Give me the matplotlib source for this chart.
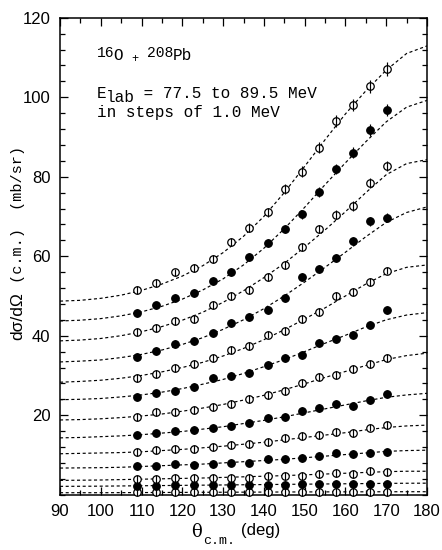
import numpy as np
import matplotlib
matplotlib.use("Agg")
import matplotlib.pyplot as plt
from matplotlib.ticker import MultipleLocator

# Bombarding energies (MeV), lowest curve first
energies = [77.5, 78.5, 79.5, 80.5, 81.5, 82.5, 83.5, 84.5, 85.5, 86.5, 87.5, 88.5, 89.5]

# Measured angles (deg, c.m.)
theta_data = [109.0, 113.5, 118.3, 122.9, 127.5, 131.9, 136.4, 140.9,
              145.1, 149.4, 153.6, 157.8, 161.9, 166.1, 170.2]

# Measured cross sections (mb/sr), one list per energy
cs_775 = [0.6, 0.6, 0.6, 0.6, 0.6, 0.6, 0.6, 0.65, 0.65, 0.65, 0.7, 0.7, 0.7, 0.7, 0.75]
cs_785 = [2.3, 2.3, 2.4, 2.4, 2.4, 2.4, 2.5, 2.5, 2.5, 2.6, 2.7, 2.8, 2.7, 2.8, 2.8]
cs_795 = [4.0, 4.0, 4.1, 4.1, 4.1, 4.2, 4.3, 4.6, 4.7, 4.8, 5.1, 5.4, 5.3, 5.9, 5.7]
cs_805 = [7.2, 7.1, 7.6, 7.4, 7.7, 8.1, 8.1, 8.9, 9.1, 9.3, 9.7, 10.4, 10.2, 10.5, 10.8]
cs_815 = [10.7, 11.2, 11.4, 11.5, 11.9, 12.4, 12.7, 13.3, 14.2, 14.7, 14.9, 15.7, 15.6, 16.9, 17.5]
cs_825 = [15.0, 15.5, 16.0, 16.3, 16.7, 17.4, 18.0, 19.2, 19.5, 21.1, 21.9, 22.8, 22.3, 23.8, 25.4]
cs_835 = [19.5, 20.7, 20.9, 21.4, 22.1, 22.8, 24.1, 25.1, 26.2, 28.0, 29.7, 30.1, 31.6, 33.0, 34.5]
cs_845 = [24.6, 25.5, 26.0, 27.1, 29.3, 29.9, 30.6, 32.6, 34.5, 35.1, 38.1, 39.2, 40.1, 42.8, 46.4]
cs_855 = [29.3, 30.3, 31.9, 32.8, 34.3, 36.3, 37.5, 40.3, 41.1, 44.2, 45.9, 50.1, 51.0, 53.4, 56.4]
cs_865 = [34.7, 36.1, 37.8, 38.7, 40.6, 43.1, 44.8, 46.5, 49.6, 54.8, 56.8, 59.5, 63.7, 68.8, 69.7]
cs_875 = [41.0, 42.0, 43.7, 44.2, 47.7, 50.0, 51.6, 54.7, 57.8, 62.2, 66.8, 70.4, 72.6, 78.3, 82.7]
cs_885 = [45.6, 47.6, 49.4, 50.7, 53.8, 56.1, 59.7, 63.4, 66.8, 70.5, 76.1, 82.0, 86.0, 91.7, 96.8]
cs_895 = [51.5, 53.2, 55.9, 57.1, 59.2, 63.6, 67.2, 71.1, 76.9, 81.3, 87.3, 94.0, 98.0, 102.8, 107.1]

# Fitted curves sampled every 5 deg from 90 to 180
theta_fit = [90, 95, 100, 105, 110, 115, 120, 125, 130, 135, 140, 145, 150, 155, 160, 165, 170, 175, 180]
fit_775 = [0.5, 0.5, 0.5, 0.52, 0.54, 0.56, 0.58, 0.6, 0.62, 0.64, 0.66, 0.68, 0.7, 0.71, 0.72, 0.73, 0.74, 0.75, 0.75]
fit_785 = [2.1, 2.12, 2.15, 2.2, 2.25, 2.3, 2.35, 2.4, 2.45, 2.5, 2.55, 2.6, 2.65, 2.7, 2.75, 2.8, 2.85, 2.88, 2.9]
fit_795 = [3.6, 3.65, 3.7, 3.8, 3.9, 4.0, 4.1, 4.2, 4.35, 4.5, 4.65, 4.8, 5.0, 5.2, 5.4, 5.6, 5.8, 5.9, 5.9]
fit_805 = [6.7, 6.75, 6.8, 6.9, 7.1, 7.3, 7.5, 7.7, 8.0, 8.3, 8.6, 8.9, 9.3, 9.7, 10.1, 10.5, 10.9, 11.1, 11.2]
fit_815 = [10.3, 10.4, 10.5, 10.6, 10.8, 11.1, 11.4, 11.8, 12.2, 12.7, 13.2, 13.8, 14.4, 15.0, 15.6, 16.3, 16.9, 17.3, 17.5]
fit_825 = [14.3, 14.4, 14.6, 14.8, 15.1, 15.5, 15.9, 16.5, 17.1, 17.9, 18.7, 19.6, 20.6, 21.6, 22.6, 23.6, 24.5, 25.1, 25.5]
fit_835 = [18.8, 18.9, 19.1, 19.4, 19.8, 20.3, 21.0, 21.8, 22.7, 23.8, 25.0, 26.4, 27.9, 29.5, 31.0, 32.5, 34.0, 35.0, 35.6]
fit_845 = [23.9, 24.0, 24.2, 24.6, 25.1, 25.8, 26.7, 27.8, 29.0, 30.5, 32.2, 34.0, 36.0, 38.1, 40.1, 42.2, 44.0, 45.2, 45.8]
fit_855 = [28.3, 28.5, 28.8, 29.3, 30.0, 30.9, 32.0, 33.3, 34.9, 36.8, 39.0, 41.5, 44.2, 47.0, 50.0, 53.0, 55.6, 57.2, 57.8]
fit_865 = [33.4, 33.6, 33.9, 34.5, 35.3, 36.4, 37.8, 39.5, 41.6, 44.0, 46.8, 50.0, 53.5, 57.2, 61.0, 64.9, 68.5, 71.0, 72.4]
fit_875 = [38.7, 38.9, 39.3, 40.0, 41.0, 42.3, 43.9, 45.9, 48.4, 51.3, 54.6, 58.2, 62.3, 66.6, 71.2, 76.0, 80.5, 83.3, 84.3]
fit_885 = [43.7, 43.9, 44.3, 45.0, 46.0, 47.4, 49.2, 51.5, 54.3, 57.8, 62.0, 66.9, 72.3, 78.0, 83.5, 88.8, 93.8, 97.5, 99.2]
fit_895 = [48.7, 48.9, 49.4, 50.2, 51.4, 53.0, 55.0, 57.6, 60.9, 65.0, 70.0, 76.0, 82.6, 89.3, 95.8, 101.6, 106.8, 111.0, 112.9]

data_sets = [cs_775, cs_785, cs_795, cs_805, cs_815, cs_825, cs_835,
             cs_845, cs_855, cs_865, cs_875, cs_885, cs_895]
fit_sets = [fit_775, fit_785, fit_795, fit_805, fit_815, fit_825, fit_835,
            fit_845, fit_855, fit_865, fit_875, fit_885, fit_895]

# Error bars: fractional uncertainty with a floor
rel_err = 0.016
min_err = 1.0

MONO = "Liberation Mono"
SANS = "Liberation Sans"

fig = plt.figure(figsize=(4.42, 5.5), dpi=100)
ax = fig.add_axes([60 / 442, 55.3 / 550, 367 / 442, 477 / 550])

for i, (ys, yf) in enumerate(zip(data_sets, fit_sets)):
    ax.plot(theta_fit, yf, color="black", lw=0.85, dashes=(2.6, 2.2), zorder=2)
    ys = np.asarray(ys)
    err = np.maximum(rel_err * ys, min_err)
    filled = (i % 2 == 1)
    ax.plot(theta_data, ys, "o", ms=5.4,
            mfc="black" if filled else "white", mec="black", mew=0.9,
            zorder=3, clip_on=False)
    # error bars drawn over the symbols so open circles are crossed
    ax.vlines(theta_data, ys - err, ys + err, color="black", lw=0.85,
              zorder=4, clip_on=False)

ax.set_xlim(90, 180)
ax.set_ylim(0, 120)
ax.xaxis.set_major_locator(MultipleLocator(10))
ax.xaxis.set_minor_locator(MultipleLocator(5))
ax.yaxis.set_major_locator(MultipleLocator(20))
ax.yaxis.set_minor_locator(MultipleLocator(4))
ax.tick_params(which="both", direction="in", top=True, right=True,
               width=0.9, labelsize=12, pad=7)
ax.tick_params(which="major", length=5.5)
ax.tick_params(which="minor", length=3.5)
ax.set_yticks([20, 40, 60, 80, 100, 120])
for lab in ax.get_xticklabels() + ax.get_yticklabels():
    lab.set_family(SANS)
for sp in ax.spines.values():
    sp.set_linewidth(1.1)

# Reaction label with raised mass numbers
fs = 11.5
t = ax.text(99.0, 110.2, "16", fontsize=10.5, family=MONO, va="baseline")
t = ax.annotate("O", xy=(1, 0), xycoords=t, xytext=(-0.5, -2.6),
                textcoords="offset points", fontsize=fs, family=MONO, va="bottom")
t = ax.annotate("+", xy=(1, 0), xycoords=t, xytext=(6, -1.5),
                textcoords="offset points", fontsize=8.5, family=MONO, va="bottom")
t = ax.annotate("208", xy=(1, 0), xycoords=t, xytext=(6, 4.2),
                textcoords="offset points", fontsize=10.5, family=MONO, va="bottom")
ax.annotate("Pb", xy=(1, 0), xycoords=t, xytext=(-0.5, -2.6),
            textcoords="offset points", fontsize=fs, family=MONO, va="bottom")

# Energy range label
t = ax.text(99.0, 99.7, "E", fontsize=fs, family=MONO, va="baseline")
t = ax.annotate("lab", xy=(1, 0), xycoords=t, xytext=(-0.5, -2.5),
                textcoords="offset points", fontsize=fs, family=MONO, va="bottom")
ax.annotate(" = 77.5 to 89.5 MeV", xy=(1, 0), xycoords=t, xytext=(-0.5, 2.5),
            textcoords="offset points", fontsize=fs, family=MONO, va="bottom")
ax.text(99.0, 95.1, "in steps of 1.0 MeV", fontsize=fs, family=MONO, va="baseline")

# Axis titles
def px(x, y):
    return x / 442, 1 - y / 550

fig.text(*px(196, 532), "\u03b8", fontsize=13, family="DejaVu Serif",
         ha="center", va="center")
fig.text(*px(219, 541), "c.m.", fontsize=9.5, family=MONO, ha="center", va="center")
fig.text(*px(261, 530), "(deg)", fontsize=12, family=SANS, ha="center", va="center")

t = fig.text(*px(18, 340), "d\u03c3/d\u03a9", fontsize=12.5, family=SANS,
             rotation=90, ha="center", va="bottom")
ax.annotate(" (c.m.)  (mb/sr)", xy=(0.5, 1), xycoords=t, xytext=(0, 0),
            textcoords="offset points", fontsize=11, family=MONO,
            rotation=90, ha="center", va="bottom")

fig.savefig("out.png", dpi=100)
